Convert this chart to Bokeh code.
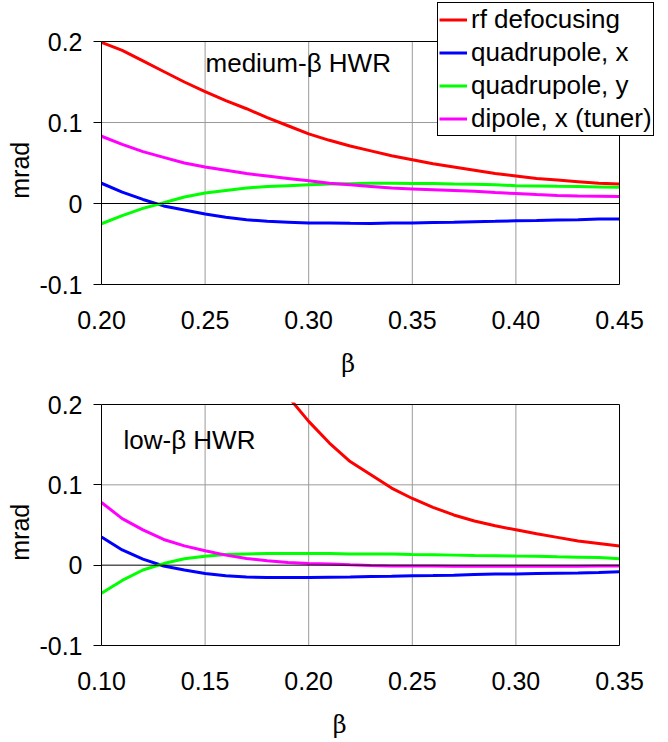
from bokeh.plotting import figure
from bokeh.layouts import column
from bokeh.models import (Range1d, FixedTicker, NumeralTickFormatter, CustomJSTickFormatter,
                          Legend, LegendItem, Label, LinearAxis)
from bokeh.embed import file_html
from bokeh.resources import INLINE

nan = float("nan")

# ---------------- data ----------------
beta_medium = [0.20, 0.21, 0.22, 0.23, 0.24, 0.25, 0.26, 0.27, 0.28, 0.29, 0.30, 0.31, 0.32,
               0.33, 0.34, 0.35, 0.36, 0.37, 0.38, 0.39, 0.40, 0.41, 0.42, 0.43, 0.44, 0.45]
med_rf = [0.199, 0.189, 0.176, 0.163, 0.150, 0.138, 0.127, 0.117, 0.106, 0.096, 0.086, 0.078, 0.071,
          0.065, 0.059, 0.054, 0.049, 0.045, 0.041, 0.037, 0.034, 0.031, 0.029, 0.027, 0.025, 0.024]
med_qx = [0.025, 0.014, 0.005, -0.003, -0.008, -0.013, -0.017, -0.020, -0.022, -0.023, -0.024, -0.024, -0.0245,
          -0.0246, -0.024, -0.024, -0.0234, -0.023, -0.0225, -0.022, -0.0213, -0.021, -0.0205, -0.020, -0.019, -0.019]
med_qy = [-0.025, -0.015, -0.006, 0.001, 0.008, 0.013, 0.016, 0.019, 0.021, 0.022, 0.023, 0.024, 0.0245,
          0.025, 0.025, 0.0246, 0.0246, 0.024, 0.0238, 0.023, 0.022, 0.0217, 0.0213, 0.021, 0.0205, 0.020]
med_dip = [0.083, 0.073, 0.064, 0.057, 0.050, 0.045, 0.041, 0.037, 0.034, 0.031, 0.028, 0.025, 0.023,
           0.021, 0.019, 0.018, 0.017, 0.016, 0.015, 0.0135, 0.0123, 0.011, 0.010, 0.0094, 0.009, 0.0086]

beta_low = [0.10, 0.11, 0.12, 0.13, 0.14, 0.15, 0.16, 0.17, 0.18, 0.19, 0.20, 0.21, 0.22,
            0.23, 0.24, 0.25, 0.26, 0.27, 0.28, 0.29, 0.30, 0.31, 0.32, 0.33, 0.34, 0.35]
low_rf = [nan, nan, nan, nan, nan, nan, nan, nan, nan, 0.210, 0.179, 0.152, 0.129,
          0.1125, 0.096, 0.083, 0.072, 0.0625, 0.055, 0.049, 0.044, 0.039, 0.0346, 0.030, 0.027, 0.024]
low_qx = [0.035, 0.019, 0.0075, -0.001, -0.006, -0.0104, -0.0133, -0.0146, -0.0154, -0.0154, -0.0154, -0.015, -0.0146,
          -0.014, -0.0138, -0.0133, -0.013, -0.0125, -0.0117, -0.011, -0.011, -0.0104, -0.010, -0.0096, -0.009, -0.0083]
low_qy = [-0.035, -0.019, -0.006, 0.002, 0.008, 0.011, 0.0133, 0.014, 0.0146, 0.0146, 0.0146, 0.0146, 0.014,
          0.0138, 0.0138, 0.0133, 0.013, 0.0125, 0.012, 0.0117, 0.0113, 0.011, 0.0104, 0.010, 0.0096, 0.008]
low_dip = [0.078, 0.058, 0.044, 0.032, 0.024, 0.018, 0.0125, 0.0083, 0.0054, 0.0033, 0.002, 0.0013, 0.0004,
           -0.0004, -0.001, -0.001, -0.001, -0.0012, -0.0013, -0.0013, -0.0013, -0.0013, -0.0013, -0.0012, -0.001, -0.001]

series_names = ["rf defocusing", "quadrupole, x", "quadrupole, y", "dipole, x (tuner)"]
series_colors = ["#FF0000", "#0000FF", "#00FF00", "#FF00FF"]

y_ticks = [-0.1, 0.0, 0.1, 0.2]
x_ticks_medium = [0.20, 0.25, 0.30, 0.35, 0.40, 0.45]
x_ticks_low = [0.10, 0.15, 0.20, 0.25, 0.30, 0.35]

# ---------------- styling / layout constants ----------------
FONT = "Liberation Sans"
GRID = "#9a9a9a"
W = 664
PLOT_L, PLOT_R = 101, 619          # page x of the data box
FRAME_L, FRAME_R = 99, 656         # page x of the bokeh frame (wider, so the legend fits)
TOP_H, BOT_H = 384, 358


def make_panel(x_ticks, fig_top, fig_h, data_top, data_bottom, frame_top, frame_bottom,
               xlabel_at, ylabel_at):
    xs_per_px = (x_ticks[-1] - x_ticks[0]) / (PLOT_R - PLOT_L)
    ys_per_px = (y_ticks[-1] - y_ticks[0]) / (data_bottom - data_top)
    xr = Range1d(x_ticks[0] - (PLOT_L - FRAME_L) * xs_per_px,
                 x_ticks[-1] + (FRAME_R - PLOT_R) * xs_per_px)
    yr = Range1d(y_ticks[0] - (frame_bottom - data_bottom) * ys_per_px,
                 y_ticks[-1] + (data_top - frame_top) * ys_per_px)
    p = figure(width=W, height=fig_h, output_backend="svg", toolbar_location=None,
               x_range=xr, y_range=yr,
               min_border_left=FRAME_L, min_border_right=W - FRAME_R,
               min_border_top=frame_top - fig_top, min_border_bottom=fig_top + fig_h - frame_bottom)
    p.outline_line_color = None
    p.xgrid.visible = False
    p.ygrid.visible = False
    p.background_fill_color = "white"
    p.border_fill_color = "white"

    xa = p.xaxis[0]
    xa.ticker = FixedTicker(ticks=x_ticks)
    xa.formatter = NumeralTickFormatter(format="0.00")
    xa.axis_line_color = None
    xa.major_tick_out = 0
    xa.major_tick_in = 0
    xa.minor_tick_out = 0
    xa.minor_tick_in = 0
    xa.major_label_standoff = 24
    xa.major_label_text_font = FONT
    xa.major_label_text_font_size = "25px"
    xa.major_label_text_color = "black"

    ya = p.yaxis[0]
    ya.ticker = FixedTicker(ticks=y_ticks)
    ya.formatter = CustomJSTickFormatter(code="return Math.abs(tick) < 1e-9 ? '0' : tick.toFixed(1);")
    ya.axis_line_color = None
    ya.major_tick_out = 6
    ya.major_tick_in = 2
    ya.minor_tick_out = 0
    ya.minor_tick_in = 0
    ya.major_tick_line_color = "black"
    ya.major_label_standoff = 11
    ya.major_label_text_font = FONT
    ya.major_label_text_font_size = "25px"
    ya.major_label_text_color = "black"

    # axis titles, each drawn as the single label of an extra, line-less axis
    bx = LinearAxis(ticker=FixedTicker(ticks=[xlabel_at]),
                    formatter=CustomJSTickFormatter(code="return 'β';"),
                    axis_line_color=None, major_tick_out=0, major_tick_in=0,
                    minor_tick_out=0, minor_tick_in=0, major_label_standoff=18,
                    major_label_text_font="DejaVu Serif", major_label_text_font_size="24px",
                    major_label_text_color="black")
    p.add_layout(bx, "below")
    ly = LinearAxis(ticker=FixedTicker(ticks=[ylabel_at]),
                    formatter=CustomJSTickFormatter(code="return 'mrad';"),
                    axis_line_color=None, major_tick_out=0, major_tick_in=0,
                    minor_tick_out=0, minor_tick_in=0, major_label_standoff=2,
                    major_label_orientation="parallel",
                    major_label_text_font=FONT, major_label_text_font_size="25px",
                    major_label_text_color="black")
    p.add_layout(ly, "left")

    # grid lines inside the data box
    x0, x1 = x_ticks[0], x_ticks[-1]
    y0, y1 = y_ticks[0], y_ticks[-1]
    inner_x = x_ticks[1:-1]
    p.segment(x0=inner_x, x1=inner_x, y0=[y0] * len(inner_x), y1=[y1] * len(inner_x),
              line_color=GRID, line_width=1)
    inner_y = [v for v in y_ticks[1:-1] if abs(v) > 1e-9]
    p.segment(x0=[x0] * len(inner_y), x1=[x1] * len(inner_y), y0=inner_y, y1=inner_y,
              line_color=GRID, line_width=1)
    return p


def draw_frame(p, x_ticks):
    x0, x1 = x_ticks[0], x_ticks[-1]
    y0, y1 = y_ticks[0], y_ticks[-1]
    p.segment(x0=[x0, x0, x0, x1, x0], x1=[x1, x1, x0, x1, x1],
              y0=[y0, y1, y0, y0, 0.0], y1=[y0, y1, y1, y1, 0.0],
              line_color="black", line_width=1)


# ---------------- top: medium-beta ----------------
p1 = make_panel(x_ticks_medium, fig_top=0, fig_h=TOP_H, data_top=41, data_bottom=284,
                frame_top=2, frame_bottom=286, xlabel_at=0.319, ylabel_at=0.041)
renderers = []
for ys, c in zip([med_rf, med_qx, med_qy, med_dip], series_colors):
    renderers.append(p1.line(beta_medium, ys, line_color=c, line_width=3))
draw_frame(p1, x_ticks_medium)
p1.add_layout(Label(x=0.2502, y=0.1732, text="medium-β HWR", text_font=FONT,
                    text_font_size="26px", text_color="black", text_baseline="middle"))

legend = Legend(items=[LegendItem(label=n, renderers=[r]) for n, r in zip(series_names, renderers)],
                location=(437 - FRAME_L, 150), border_line_color="black", border_line_width=1,
                border_line_alpha=1, background_fill_color="white", background_fill_alpha=1,
                label_text_font=FONT, label_text_font_size="26px", label_text_color="black",
                glyph_width=28, glyph_height=31, label_height=31, label_standoff=4,
                spacing=2, padding=1, margin=0)
p1.add_layout(legend)

# ---------------- bottom: low-beta ----------------
p2 = make_panel(x_ticks_low, fig_top=TOP_H, fig_h=BOT_H, data_top=404, data_bottom=645,
                frame_top=402, frame_bottom=647, xlabel_at=0.215, ylabel_at=0.041)
for ys, c in zip([low_rf, low_qx, low_qy, low_dip], series_colors):
    p2.line(beta_low, ys, line_color=c, line_width=3)
draw_frame(p2, x_ticks_low)
p2.add_layout(Label(x=0.1106, y=0.1552, text="low-β HWR", text_font=FONT,
                    text_font_size="26px", text_color="black", text_baseline="middle"))

layout = column(p1, p2, spacing=0)
open("out.html", "w").write(file_html(layout, INLINE))
